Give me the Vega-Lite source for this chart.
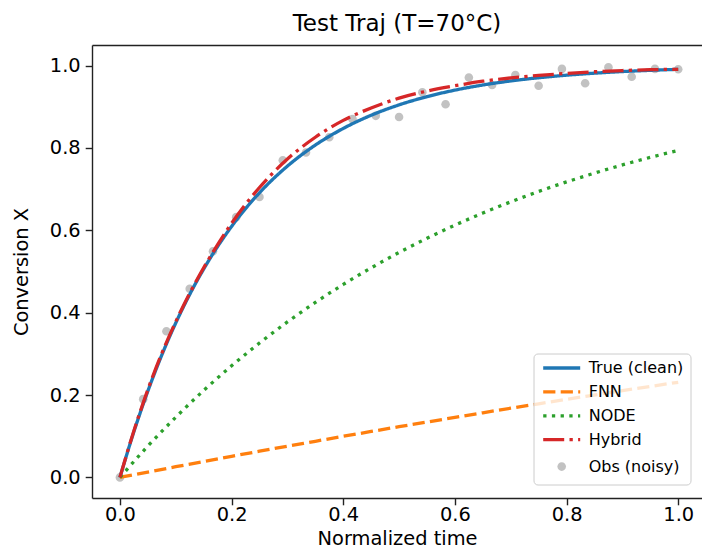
{
  "$schema": "https://vega.github.io/schema/vega-lite/v6.json",
  "width": 610,
  "height": 453,
  "autosize": {"type": "none"},
  "padding": {"left": 92, "top": 45, "right": 0, "bottom": 51},
  "background": "white",
  "title": {"text": "Test Traj (T=70°C)", "font": "DejaVu Sans", "fontSize": 23, "fontWeight": "normal", "color": "#000000", "anchor": "middle", "frame": "group", "offset": 9},
  "config": {
    "font": "DejaVu Sans",
    "view": {"stroke": null},
    "axis": {"grid": false, "domainColor": "#222222", "domainWidth": 1.4, "tickColor": "#222222", "tickWidth": 1.4, "tickSize": 6.8, "labelFont": "DejaVu Sans", "labelFontSize": 19.4, "labelColor": "#000000", "titleFont": "DejaVu Sans", "titleFontSize": 19.4, "titleFontWeight": "normal", "titleColor": "#000000", "labelPadding": 5},
    "legend": {"orient": "none", "legendX": 441.5, "legendY": 308.5, "padding": 6.5, "cornerRadius": 4, "strokeColor": "#cccccc", "fillColor": "rgba(255,255,255,0.8)", "labelFont": "DejaVu Sans", "labelFontSize": 16, "labelColor": "#000000", "labelOffset": 19, "rowPadding": 7.9, "symbolSize": 100, "symbolStrokeWidth": 3.3, "symbolOffset": 13.7, "symbolBaseFillColor": "#c2c2c2", "symbolOpacity": 1}
  },
  "datasets": {
    "curves": [
      {"series": "True (clean)", "t": 0, "X": 0},
      {"series": "True (clean)", "t": 0.025, "X": 0.1109},
      {"series": "True (clean)", "t": 0.05, "X": 0.2094},
      {"series": "True (clean)", "t": 0.075, "X": 0.2971},
      {"series": "True (clean)", "t": 0.1, "X": 0.375},
      {"series": "True (clean)", "t": 0.125, "X": 0.4443},
      {"series": "True (clean)", "t": 0.15, "X": 0.5059},
      {"series": "True (clean)", "t": 0.175, "X": 0.5607},
      {"series": "True (clean)", "t": 0.2, "X": 0.6094},
      {"series": "True (clean)", "t": 0.25, "X": 0.6912},
      {"series": "True (clean)", "t": 0.3, "X": 0.7559},
      {"series": "True (clean)", "t": 0.35, "X": 0.807},
      {"series": "True (clean)", "t": 0.4, "X": 0.8474},
      {"series": "True (clean)", "t": 0.45, "X": 0.8794},
      {"series": "True (clean)", "t": 0.5, "X": 0.9046},
      {"series": "True (clean)", "t": 0.55, "X": 0.9246},
      {"series": "True (clean)", "t": 0.6, "X": 0.9404},
      {"series": "True (clean)", "t": 0.65, "X": 0.9529},
      {"series": "True (clean)", "t": 0.7, "X": 0.9627},
      {"series": "True (clean)", "t": 0.75, "X": 0.9705},
      {"series": "True (clean)", "t": 0.8, "X": 0.9767},
      {"series": "True (clean)", "t": 0.85, "X": 0.9816},
      {"series": "True (clean)", "t": 0.9, "X": 0.9855},
      {"series": "True (clean)", "t": 0.95, "X": 0.9885},
      {"series": "True (clean)", "t": 1.0, "X": 0.9909},
      {"series": "FNN", "t": 0, "X": 0},
      {"series": "FNN", "t": 0.05, "X": 0.0131},
      {"series": "FNN", "t": 0.1, "X": 0.0259},
      {"series": "FNN", "t": 0.15, "X": 0.0386},
      {"series": "FNN", "t": 0.2, "X": 0.0512},
      {"series": "FNN", "t": 0.25, "X": 0.0636},
      {"series": "FNN", "t": 0.3, "X": 0.0758},
      {"series": "FNN", "t": 0.35, "X": 0.0878},
      {"series": "FNN", "t": 0.4, "X": 0.0998},
      {"series": "FNN", "t": 0.45, "X": 0.1115},
      {"series": "FNN", "t": 0.5, "X": 0.1231},
      {"series": "FNN", "t": 0.55, "X": 0.1345},
      {"series": "FNN", "t": 0.6, "X": 0.1458},
      {"series": "FNN", "t": 0.65, "X": 0.157},
      {"series": "FNN", "t": 0.7, "X": 0.168},
      {"series": "FNN", "t": 0.75, "X": 0.1788},
      {"series": "FNN", "t": 0.8, "X": 0.1896},
      {"series": "FNN", "t": 0.85, "X": 0.2001},
      {"series": "FNN", "t": 0.9, "X": 0.2105},
      {"series": "FNN", "t": 0.95, "X": 0.2209},
      {"series": "FNN", "t": 1.0, "X": 0.231},
      {"series": "NODE", "t": 0, "X": 0},
      {"series": "NODE", "t": 0.05, "X": 0.076},
      {"series": "NODE", "t": 0.1, "X": 0.1461},
      {"series": "NODE", "t": 0.15, "X": 0.211},
      {"series": "NODE", "t": 0.2, "X": 0.2709},
      {"series": "NODE", "t": 0.25, "X": 0.3263},
      {"series": "NODE", "t": 0.3, "X": 0.3775},
      {"series": "NODE", "t": 0.35, "X": 0.4248},
      {"series": "NODE", "t": 0.4, "X": 0.4685},
      {"series": "NODE", "t": 0.45, "X": 0.5088},
      {"series": "NODE", "t": 0.5, "X": 0.5462},
      {"series": "NODE", "t": 0.55, "X": 0.5806},
      {"series": "NODE", "t": 0.6, "X": 0.6125},
      {"series": "NODE", "t": 0.65, "X": 0.6419},
      {"series": "NODE", "t": 0.7, "X": 0.6691},
      {"series": "NODE", "t": 0.75, "X": 0.6943},
      {"series": "NODE", "t": 0.8, "X": 0.7175},
      {"series": "NODE", "t": 0.85, "X": 0.7389},
      {"series": "NODE", "t": 0.9, "X": 0.7588},
      {"series": "NODE", "t": 0.95, "X": 0.7771},
      {"series": "NODE", "t": 1.0, "X": 0.794},
      {"series": "Hybrid", "t": 0, "X": 0},
      {"series": "Hybrid", "t": 0.025, "X": 0.113},
      {"series": "Hybrid", "t": 0.05, "X": 0.213},
      {"series": "Hybrid", "t": 0.075, "X": 0.301},
      {"series": "Hybrid", "t": 0.1, "X": 0.378},
      {"series": "Hybrid", "t": 0.125, "X": 0.447},
      {"series": "Hybrid", "t": 0.15, "X": 0.509},
      {"series": "Hybrid", "t": 0.175, "X": 0.565},
      {"series": "Hybrid", "t": 0.2, "X": 0.617},
      {"series": "Hybrid", "t": 0.25, "X": 0.704},
      {"series": "Hybrid", "t": 0.3, "X": 0.773},
      {"series": "Hybrid", "t": 0.35, "X": 0.826},
      {"series": "Hybrid", "t": 0.4, "X": 0.867},
      {"series": "Hybrid", "t": 0.45, "X": 0.897},
      {"series": "Hybrid", "t": 0.5, "X": 0.921},
      {"series": "Hybrid", "t": 0.55, "X": 0.938},
      {"series": "Hybrid", "t": 0.6, "X": 0.951},
      {"series": "Hybrid", "t": 0.65, "X": 0.962},
      {"series": "Hybrid", "t": 0.7, "X": 0.97},
      {"series": "Hybrid", "t": 0.75, "X": 0.976},
      {"series": "Hybrid", "t": 0.8, "X": 0.981},
      {"series": "Hybrid", "t": 0.85, "X": 0.985},
      {"series": "Hybrid", "t": 0.9, "X": 0.988},
      {"series": "Hybrid", "t": 0.95, "X": 0.99},
      {"series": "Hybrid", "t": 1.0, "X": 0.991}
    ],
    "obs": [
      {"series": "Obs (noisy)", "t": 0, "X": 0},
      {"series": "Obs (noisy)", "t": 0.0417, "X": 0.19},
      {"series": "Obs (noisy)", "t": 0.0833, "X": 0.355},
      {"series": "Obs (noisy)", "t": 0.125, "X": 0.458},
      {"series": "Obs (noisy)", "t": 0.1667, "X": 0.549},
      {"series": "Obs (noisy)", "t": 0.2083, "X": 0.632},
      {"series": "Obs (noisy)", "t": 0.25, "X": 0.681},
      {"series": "Obs (noisy)", "t": 0.2917, "X": 0.77},
      {"series": "Obs (noisy)", "t": 0.3333, "X": 0.789},
      {"series": "Obs (noisy)", "t": 0.375, "X": 0.826},
      {"series": "Obs (noisy)", "t": 0.4167, "X": 0.87},
      {"series": "Obs (noisy)", "t": 0.4583, "X": 0.878},
      {"series": "Obs (noisy)", "t": 0.5, "X": 0.875},
      {"series": "Obs (noisy)", "t": 0.5417, "X": 0.935},
      {"series": "Obs (noisy)", "t": 0.5833, "X": 0.906},
      {"series": "Obs (noisy)", "t": 0.625, "X": 0.971},
      {"series": "Obs (noisy)", "t": 0.6667, "X": 0.953},
      {"series": "Obs (noisy)", "t": 0.7083, "X": 0.977},
      {"series": "Obs (noisy)", "t": 0.75, "X": 0.951},
      {"series": "Obs (noisy)", "t": 0.7917, "X": 0.992},
      {"series": "Obs (noisy)", "t": 0.8333, "X": 0.957},
      {"series": "Obs (noisy)", "t": 0.875, "X": 0.996},
      {"series": "Obs (noisy)", "t": 0.9167, "X": 0.973},
      {"series": "Obs (noisy)", "t": 0.9583, "X": 0.992},
      {"series": "Obs (noisy)", "t": 1.0, "X": 0.991}
    ]
  },
  "layer": [
    {
      "layer": [
        {
          "data": {"name": "obs"},
          "mark": {"type": "point", "filled": true, "size": 100, "opacity": 1, "strokeWidth": 0},
          "encoding": {
            "x": {"field": "t", "type": "quantitative", "scale": {"domain": [-0.05, 1.0426], "nice": false, "zero": false}, "axis": {"orient": "bottom", "values": [0, 0.2, 0.4, 0.6, 0.8, 1.0], "format": ".1f", "title": "Normalized time", "labelPadding": 1, "titlePadding": 5}},
            "y": {"field": "X", "type": "quantitative", "scale": {"domain": [-0.05, 1.05], "nice": false, "zero": false}, "axis": {"values": [0, 0.2, 0.4, 0.6, 0.8, 1.0], "format": ".1f", "title": "Conversion X", "titlePadding": 18}},
            "fill": {
              "field": "series", "type": "nominal", "title": null,
              "scale": {"domain": ["True (clean)", "FNN", "NODE", "Hybrid", "Obs (noisy)"], "range": ["transparent", "transparent", "transparent", "transparent", "#c2c2c2"]},
              "legend": {"orient": "none", "legendX": 441.5, "legendY": 308.5, "title": null}
            },
            "shape": {
              "field": "series", "type": "nominal", "title": null,
              "scale": {"domain": ["True (clean)", "FNN", "NODE", "Hybrid", "Obs (noisy)"], "range": ["M-3.7,0H3.7", "M-3.7,0H3.7", "M-3.7,0H3.7", "M-3.7,0H3.7", "M-0.86,0A0.86,0.86,0,1,1,0.86,0A0.86,0.86,0,1,1,-0.86,0Z"]},
              "legend": {"orient": "none", "legendX": 441.5, "legendY": 308.5, "title": null}
            }
          }
        },
        {
          "data": {"name": "curves"},
          "transform": [{"filter": "datum.series === 'True (clean)'"}],
          "mark": {"type": "line", "strokeWidth": 3.3, "interpolate": "monotone"},
          "encoding": {
            "x": {"field": "t", "type": "quantitative"},
            "y": {"field": "X", "type": "quantitative"},
            "stroke": {
              "field": "series", "type": "nominal", "title": null,
              "scale": {"domain": ["True (clean)", "FNN", "NODE", "Hybrid", "Obs (noisy)"], "range": ["#1f77b4", "#ff7f0e", "#2ca02c", "#d62728", "transparent"]},
              "legend": {"orient": "none", "legendX": 441.5, "legendY": 308.5, "title": null}
            },
            "strokeDash": {
              "field": "series", "type": "nominal", "title": null,
              "scale": {"domain": ["True (clean)", "FNN", "NODE", "Hybrid", "Obs (noisy)"], "range": [[1, 0], [12.2, 5.3], [3.3, 5.4], [21, 5.3, 3.3, 5.3], [1, 0]]},
              "legend": {"orient": "none", "legendX": 441.5, "legendY": 308.5, "title": null}
            }
          }
        },
        {
          "data": {"name": "curves"},
          "transform": [{"filter": "datum.series === 'FNN'"}],
          "mark": {"type": "line", "strokeWidth": 3.3, "interpolate": "monotone"},
          "encoding": {"x": {"field": "t", "type": "quantitative"}, "y": {"field": "X", "type": "quantitative"}, "stroke": {"field": "series", "type": "nominal", "title": null}, "strokeDash": {"field": "series", "type": "nominal", "title": null}}
        },
        {
          "data": {"name": "curves"},
          "transform": [{"filter": "datum.series === 'NODE'"}],
          "mark": {"type": "line", "strokeWidth": 3.3, "interpolate": "monotone"},
          "encoding": {"x": {"field": "t", "type": "quantitative"}, "y": {"field": "X", "type": "quantitative"}, "stroke": {"field": "series", "type": "nominal", "title": null}, "strokeDash": {"field": "series", "type": "nominal", "title": null}}
        },
        {
          "data": {"name": "curves"},
          "transform": [{"filter": "datum.series === 'Hybrid'"}],
          "mark": {"type": "line", "strokeWidth": 3.3, "interpolate": "monotone"},
          "encoding": {"x": {"field": "t", "type": "quantitative"}, "y": {"field": "X", "type": "quantitative"}, "stroke": {"field": "series", "type": "nominal", "title": null}, "strokeDash": {"field": "series", "type": "nominal", "title": null}}
        }
      ]
    },
    {
      "data": {"name": "obs"},
      "mark": {"type": "point", "opacity": 0},
      "encoding": {
        "x": {"field": "t", "type": "quantitative", "axis": {"orient": "top", "labels": false, "ticks": false, "title": null, "domain": true}},
        "y": {"field": "X", "type": "quantitative", "axis": null}
      }
    }
  ],
  "resolve": {"axis": {"x": "independent", "y": "independent"}}
}
